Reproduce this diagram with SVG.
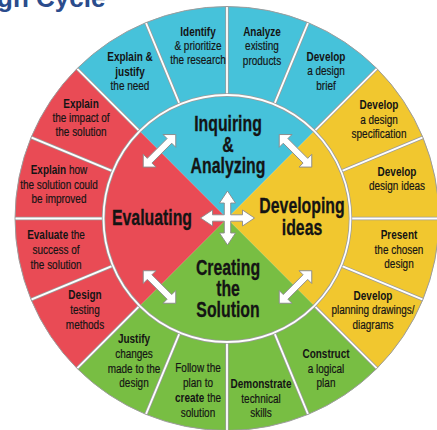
<svg xmlns="http://www.w3.org/2000/svg" width="437" height="430" viewBox="0 0 437 430">
<style>
.t{font-family:"Liberation Sans",Arial,sans-serif;font-size:13.5px;fill:#141414;text-anchor:middle;stroke:#141414;stroke-width:0.2}
.b{font-weight:bold;stroke-width:0}
.h{font-size:22px;font-weight:bold;stroke-width:0.3}
.sepg{fill:none;stroke:#9c9c9c;stroke-width:3.4}
.sepw{fill:none;stroke:#ffffff;stroke-width:1.8}
.arr{fill:#ffffff;stroke:#8a8a8a;stroke-width:0.9;stroke-linejoin:miter}
</style>
<defs>
<path id="darr" d="M-23 0 L-14 -9 L-14 -3.3 L14 -3.3 L14 -9 L23 0 L14 9 L14 3.3 L-14 3.3 L-14 9 Z"/>
</defs>
<rect width="437" height="430" fill="#ffffff"/>
<text x="-3" y="7" font-family="Liberation Sans, sans-serif" font-weight="bold" font-size="26" fill="#2B4C8C">gn Cycle</text>

<g id="quad-inquiring">
<path d="M227 218.5 L77.09 68.59 A212 212 0 0 1 376.91 68.59 Z" fill="#46C2DA"/>
</g>
<g id="quad-developing">
<path d="M227 218.5 L376.91 68.59 A212 212 0 0 1 376.91 368.41 Z" fill="#F1C72F"/>
</g>
<g id="quad-creating">
<path d="M227 218.5 L376.91 368.41 A212 212 0 0 1 77.09 368.41 Z" fill="#78BE43"/>
</g>
<g id="quad-evaluating">
<path d="M227 218.5 L77.09 368.41 A212 212 0 0 1 77.09 68.59 Z" fill="#E94B55"/>
</g>

<g id="separators">
<path class="sepg" d="M351 218.5L439 218.5M341.56 265.95L422.86 299.63M314.68 306.18L376.91 368.41M274.45 333.06L308.13 414.36M227 342.5L227 431M179.55 333.06L145.87 414.36M139.32 306.18L77.09 368.41M112.44 265.95L31.14 299.63M103 218.5L15 218.5M112.44 171.05L31.14 137.37M139.32 130.82L77.09 68.59M179.55 103.94L145.87 22.64M227 94.5L227 6.5M274.45 103.94L308.13 22.64M314.68 130.82L376.91 68.59M341.56 171.05L422.86 137.37"/>
<path class="sepw" d="M351 218.5L439 218.5M341.56 265.95L422.86 299.63M314.68 306.18L376.91 368.41M274.45 333.06L308.13 414.36M227 342.5L227 431M179.55 333.06L145.87 414.36M139.32 306.18L77.09 368.41M112.44 265.95L31.14 299.63M103 218.5L15 218.5M112.44 171.05L31.14 137.37M139.32 130.82L77.09 68.59M179.55 103.94L145.87 22.64M227 94.5L227 6.5M274.45 103.94L308.13 22.64M314.68 130.82L376.91 68.59M341.56 171.05L422.86 137.37"/>
<circle cx="227" cy="218.5" r="123.5" class="sepg"/>
<circle cx="227" cy="218.5" r="123.5" class="sepw"/>
<circle cx="227" cy="218.5" r="212" fill="none" stroke="#9c9c9c" stroke-width="1"/>
</g>

<g id="label-inquiring" transform="translate(228 0) scale(0.72 1)">
<text class="t h" x="0" y="131">Inquiring<tspan x="0" y="152">&amp;</tspan><tspan x="0" y="173">Analyzing</tspan></text>
</g>
<g id="label-developing" transform="translate(302 0) scale(0.72 1)">
<text class="t h" x="0" y="213">Developing<tspan x="0" y="235">ideas</tspan></text>
</g>
<g id="label-creating" transform="translate(228 0) scale(0.72 1)">
<text class="t h" x="0" y="275">Creating<tspan x="0" y="296">the</tspan><tspan x="0" y="317">Solution</tspan></text>
</g>
<g id="label-evaluating" transform="translate(152 0) scale(0.72 1)">
<text class="t h" x="0" y="225">Evaluating</text>
</g>

<g id="seg-explain-justify" transform="translate(130 0) scale(0.74 1)">
<text class="t" x="0" y="61"><tspan class="b">Explain &amp;</tspan><tspan class="b" x="0" y="76">justify</tspan><tspan x="0" y="90">the need</tspan></text>
</g>
<g id="seg-identify" transform="translate(198 0) scale(0.74 1)">
<text class="t" x="0" y="36"><tspan class="b">Identify</tspan><tspan x="0" y="50">&amp; prioritize</tspan><tspan x="0" y="64">the research</tspan></text>
</g>
<g id="seg-analyze" transform="translate(262 0) scale(0.74 1)">
<text class="t" x="0" y="36"><tspan class="b">Analyze</tspan><tspan x="0" y="50">existing</tspan><tspan x="0" y="65">products</tspan></text>
</g>
<g id="seg-brief" transform="translate(326 0) scale(0.74 1)">
<text class="t" x="0" y="61"><tspan class="b">Develop</tspan><tspan x="0" y="75">a design</tspan><tspan x="0" y="90">brief</tspan></text>
</g>

<g id="seg-specification" transform="translate(379 0) scale(0.74 1)">
<text class="t" x="0" y="109"><tspan class="b">Develop</tspan><tspan x="0" y="124">a design</tspan><tspan x="0" y="138">specification</tspan></text>
</g>
<g id="seg-design-ideas" transform="translate(397 0) scale(0.74 1)">
<text class="t" x="0" y="176"><tspan class="b">Develop</tspan><tspan x="0" y="190">design ideas</tspan></text>
</g>
<g id="seg-present" transform="translate(399 0) scale(0.74 1)">
<text class="t" x="0" y="239"><tspan class="b">Present</tspan><tspan x="0" y="254">the chosen</tspan><tspan x="0" y="268">design</tspan></text>
</g>
<g id="seg-planning" transform="translate(373 0) scale(0.74 1)">
<text class="t" x="0" y="300"><tspan class="b">Develop</tspan><tspan x="0" y="314">planning drawings/</tspan><tspan x="0" y="329">diagrams</tspan></text>
</g>

<g id="seg-construct" transform="translate(326 0) scale(0.74 1)">
<text class="t" x="0" y="358"><tspan class="b">Construct</tspan><tspan x="0" y="373">a logical</tspan><tspan x="0" y="387">plan</tspan></text>
</g>
<g id="seg-demonstrate" transform="translate(261 0) scale(0.74 1)">
<text class="t" x="0" y="388"><tspan class="b">Demonstrate</tspan><tspan x="0" y="403">technical</tspan><tspan x="0" y="417">skills</tspan></text>
</g>
<g id="seg-follow" transform="translate(198 0) scale(0.74 1)">
<text class="t" x="0" y="372">Follow the<tspan x="0" y="387">plan to</tspan><tspan x="0" y="402"><tspan class="b">create</tspan> the</tspan><tspan x="0" y="417">solution</tspan></text>
</g>
<g id="seg-justify" transform="translate(134 0) scale(0.74 1)">
<text class="t" x="0" y="343"><tspan class="b">Justify</tspan><tspan x="0" y="358">changes</tspan><tspan x="0" y="373">made to the</tspan><tspan x="0" y="387">design</tspan></text>
</g>

<g id="seg-design-testing" transform="translate(85 0) scale(0.74 1)">
<text class="t" x="0" y="299"><tspan class="b">Design</tspan><tspan x="0" y="314">testing</tspan><tspan x="0" y="329">methods</tspan></text>
</g>
<g id="seg-evaluate" transform="translate(56 0) scale(0.74 1)">
<text class="t" x="0" y="239"><tspan class="b">Evaluate</tspan> the<tspan x="0" y="254">success of</tspan><tspan x="0" y="269">the solution</tspan></text>
</g>
<g id="seg-improved" transform="translate(59 0) scale(0.74 1)">
<text class="t" x="0" y="174"><tspan class="b">Explain</tspan> how<tspan x="0" y="189">the solution could</tspan><tspan x="0" y="203">be improved</tspan></text>
</g>
<g id="seg-impact" transform="translate(81 0) scale(0.74 1)">
<text class="t" x="0" y="108"><tspan class="b">Explain</tspan><tspan x="0" y="122">the impact of</tspan><tspan x="0" y="136">the solution</tspan></text>
</g>

<g id="connectors">
<use href="#darr" class="arr" transform="translate(159.5 150.8) rotate(-45)"/>
<use href="#darr" class="arr" transform="translate(295.5 150.8) rotate(45)"/>
<use href="#darr" class="arr" transform="translate(159.5 287) rotate(45)"/>
<use href="#darr" class="arr" transform="translate(295.5 287) rotate(-45)"/>
<path class="arr" transform="translate(227.5 218)" d="M0 -27 L8 -15 L3.2 -15 L3.2 -3.2 L15 -3.2 L15 -8 L27 0 L15 8 L15 3.2 L3.2 3.2 L3.2 15 L8 15 L0 27 L-8 15 L-3.2 15 L-3.2 3.2 L-15 3.2 L-15 8 L-27 0 L-15 -8 L-15 -3.2 L-3.2 -3.2 L-3.2 -15 L-8 -15 Z"/>
</g>
</svg>
